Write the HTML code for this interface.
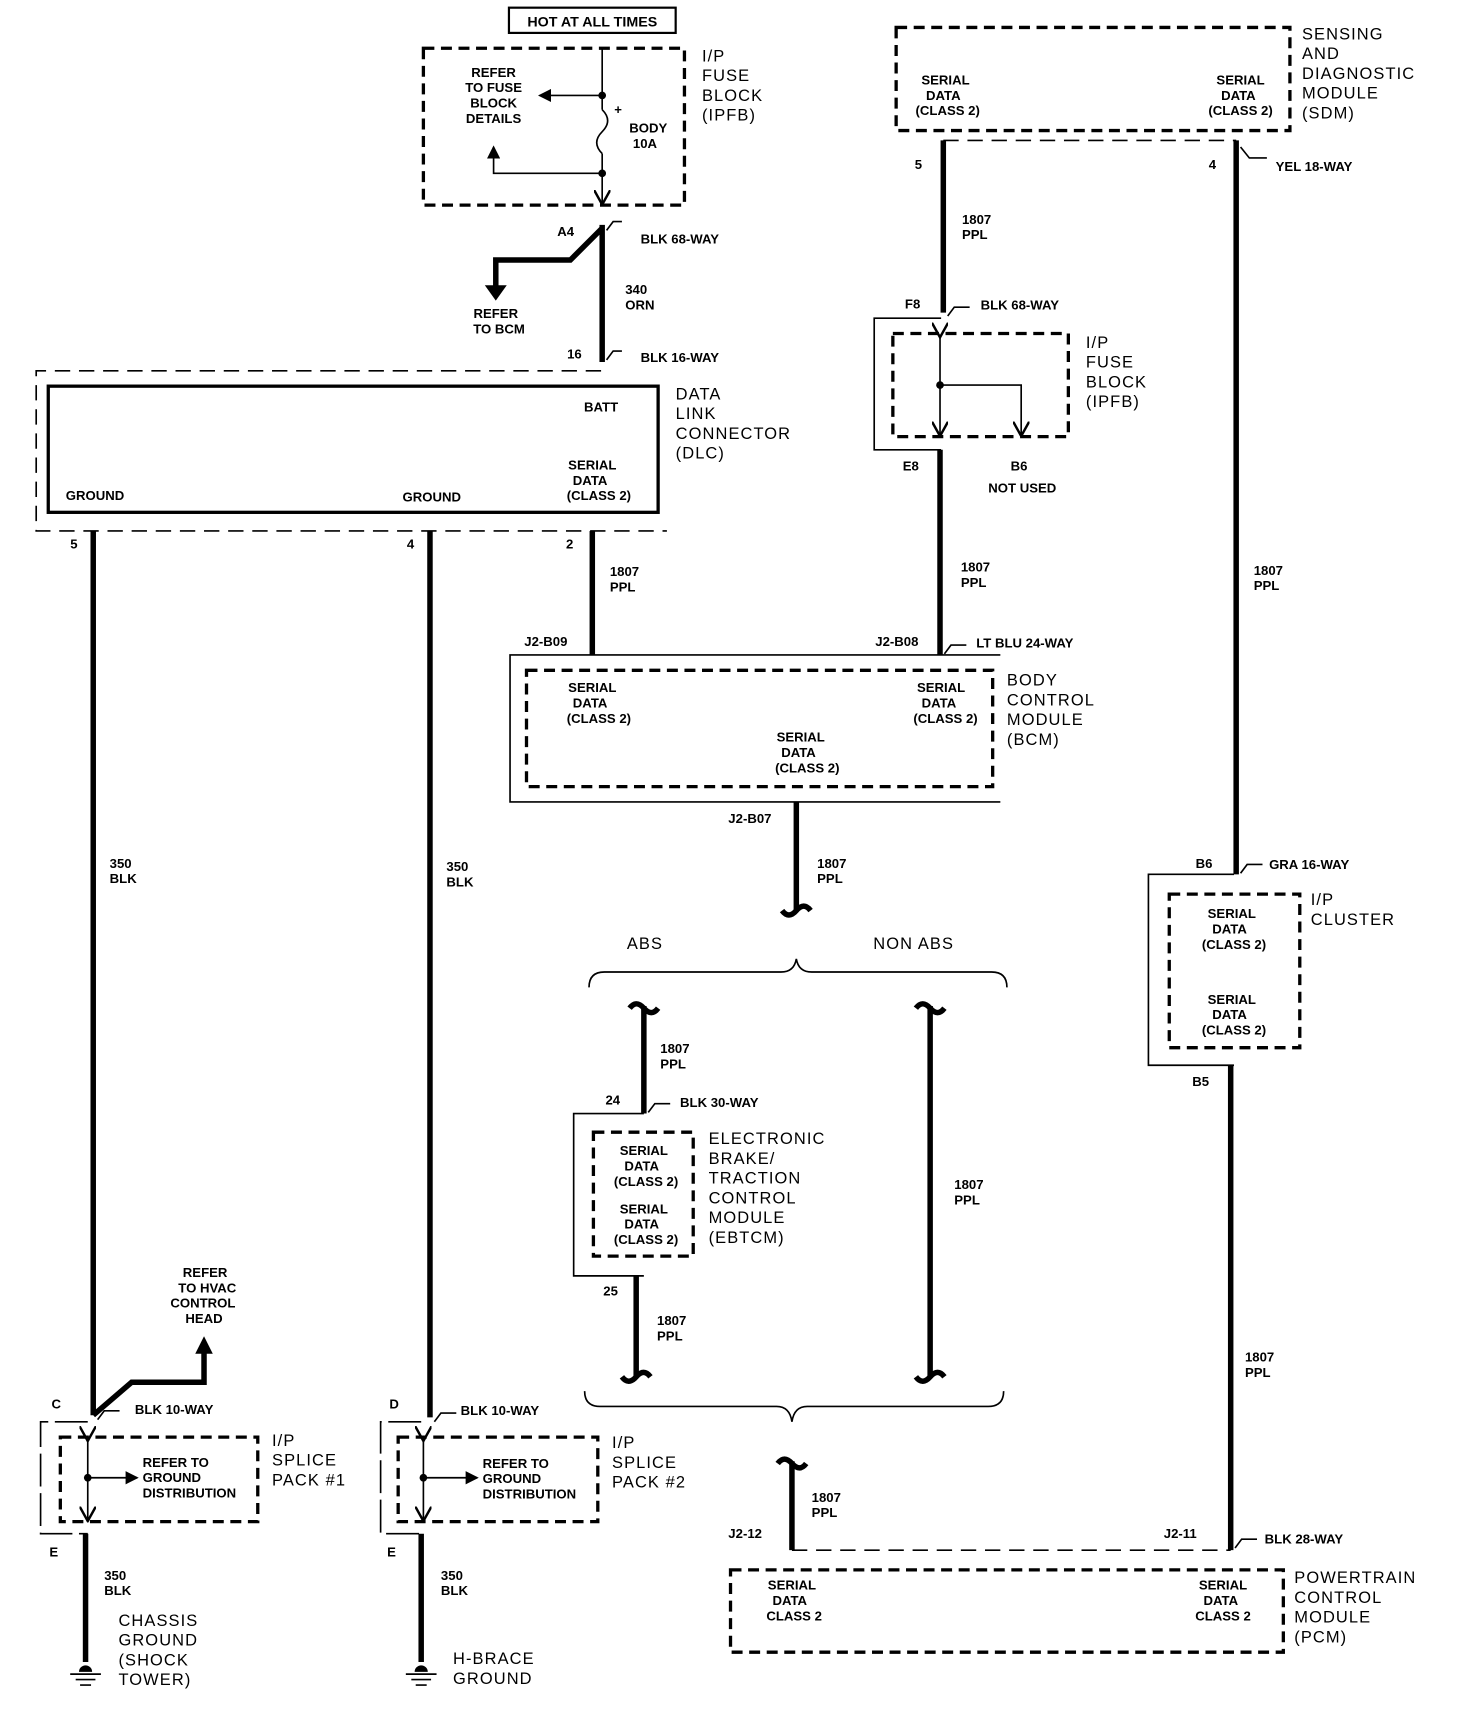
<!DOCTYPE html>
<html><head><meta charset="utf-8"><style>
html,body{margin:0;padding:0;background:#fff;}
svg{display:block;}
.s{font-family:"Liberation Sans",sans-serif;font-size:12px;font-weight:bold;fill:#000;}
.l{font-family:"Liberation Sans",sans-serif;font-size:15px;fill:#000;letter-spacing:1px;}
.w{stroke:#000;stroke-width:5;fill:none;}
.t{stroke:#000;stroke-width:1.5;fill:none;}
.d{stroke:#000;stroke-width:3;fill:none;stroke-dasharray:10 6;}
.dt{stroke:#000;stroke-width:1.5;fill:none;stroke-dasharray:14 8;}
</style></head><body>
<svg width="1472" height="1718" viewBox="0 0 1342 1566" preserveAspectRatio="none" xmlns="http://www.w3.org/2000/svg">
<defs>
<marker id="ah" markerWidth="8" markerHeight="8" refX="7" refY="4" orient="auto"><path d="M0,0 L8,4 L0,8 z" fill="#000"/></marker>
<marker id="av" markerWidth="10" markerHeight="10" refX="8" refY="5" orient="auto"><path d="M0,0 L9,5 L0,10" fill="none" stroke="#000" stroke-width="1.5"/></marker>
</defs>

<rect x="464" y="7" width="152" height="23" fill="none" stroke="#000" stroke-width="2"/>
<text class="s" x="540" y="24" text-anchor="middle" style="font-size:13px">HOT AT ALL TIMES</text>

<rect x="386" y="44" width="238" height="143" class="d"/>
<line x1="549" y1="44" x2="549" y2="100" class="t"/>
<path d="M549,100 q10,10 0,20 q-10,10 0,20" class="t"/>
<line x1="549" y1="140" x2="549" y2="185" class="t" marker-end="url(#av)"/>
<circle cx="549" cy="87" r="3.5"/><circle cx="549" cy="158" r="3.5"/>
<line x1="549" y1="87" x2="492" y2="87" class="t" marker-end="url(#ah)"/>
<polyline points="549,158 450,158 450,134" class="t" marker-end="url(#ah)"/>
<text class="s" x="560" y="104">+</text>
<text class="s" x="450" y="70" text-anchor="middle">REFER</text>
<text class="s" x="450" y="84" text-anchor="middle">TO FUSE</text>
<text class="s" x="450" y="98" text-anchor="middle">BLOCK</text>
<text class="s" x="450" y="112" text-anchor="middle">DETAILS</text>
<text class="s" x="591" y="121" text-anchor="middle">BODY</text>
<text class="s" x="588" y="135" text-anchor="middle">10A</text>
<text class="l" x="640" y="56">I/P</text><text class="l" x="640" y="74">FUSE</text><text class="l" x="640" y="92">BLOCK</text><text class="l" x="640" y="110">(IPFB)</text>

<line x1="549" y1="205" x2="549" y2="330" class="w"/>
<polyline points="549,208 520,237 452,237 452,262" class="w"/>
<path d="M442,260 L462,260 L452,274 z"/>
<path d="M553,210 l6,-8 h8 M553,328 l6,-8 h8" class="t"/>
<text class="s" x="508" y="215">A4</text>
<text class="s" x="584" y="222">BLK 68-WAY</text>
<text class="s" x="570" y="268">340</text><text class="s" x="570" y="282">ORN</text>
<text class="s" x="452" y="290" text-anchor="middle">REFER</text><text class="s" x="455" y="304" text-anchor="middle">TO BCM</text>
<text class="s" x="517" y="327">16</text>
<text class="s" x="584" y="330">BLK 16-WAY</text>

<path d="M548,338 H33 V484 H608" class="dt"/>
<rect x="44" y="352" width="556" height="115" fill="none" stroke="#000" stroke-width="3"/>
<text class="s" x="548" y="375" text-anchor="middle">BATT</text>
<text class="s" x="540" y="428" text-anchor="middle">SERIAL</text>
<text class="s" x="538" y="442" text-anchor="middle">DATA</text>
<text class="s" x="546" y="456" text-anchor="middle">(CLASS 2)</text>
<text class="s" x="60" y="456">GROUND</text>
<text class="s" x="367" y="457">GROUND</text>
<text class="l" x="616" y="364">DATA</text><text class="l" x="616" y="382">LINK</text><text class="l" x="616" y="400">CONNECTOR</text><text class="l" x="616" y="418">(DLC)</text>

<line x1="85" y1="484" x2="85" y2="1290" class="w"/>
<line x1="392" y1="484" x2="392" y2="1292" class="w"/>
<line x1="540" y1="484" x2="540" y2="597" class="w"/>
<text class="s" x="64" y="500">5</text><text class="s" x="371" y="500">4</text><text class="s" x="516" y="500">2</text>
<text class="s" x="556" y="525">1807</text><text class="s" x="556" y="539">PPL</text>
<text class="s" x="100" y="791">350</text><text class="s" x="100" y="805">BLK</text>
<text class="s" x="407" y="794">350</text><text class="s" x="407" y="808">BLK</text>
<text class="s" x="478" y="589">J2-B09</text>

<path d="M912,597 H465 V731 H912" class="t"/>
<rect x="480" y="611" width="425" height="106" class="d"/>
<text class="s" x="540" y="631" text-anchor="middle">SERIAL</text><text class="s" x="538" y="645" text-anchor="middle">DATA</text><text class="s" x="546" y="659" text-anchor="middle">(CLASS 2)</text>
<text class="s" x="858" y="631" text-anchor="middle">SERIAL</text><text class="s" x="856" y="645" text-anchor="middle">DATA</text><text class="s" x="862" y="659" text-anchor="middle">(CLASS 2)</text>
<text class="s" x="730" y="676" text-anchor="middle">SERIAL</text><text class="s" x="728" y="690" text-anchor="middle">DATA</text><text class="s" x="736" y="704" text-anchor="middle">(CLASS 2)</text>
<text class="l" x="918" y="625">BODY</text><text class="l" x="918" y="643">CONTROL</text><text class="l" x="918" y="661">MODULE</text><text class="l" x="918" y="679">(BCM)</text>

<text class="s" x="664" y="750">J2-B07</text>
<line x1="726" y1="731" x2="726" y2="830" class="w"/>
<path d="M713,830 q6,8 13,0 q7,-8 13,0" class="w"/>
<text class="s" x="745" y="791">1807</text><text class="s" x="745" y="805">PPL</text>
<text class="l" x="588" y="865" text-anchor="middle">ABS</text>
<text class="l" x="833" y="865" text-anchor="middle">NON ABS</text>
<path d="M537,900 q0,-14 14,-14 H712 q12,0 14,-12 q2,12 14,12 H904 q14,0 14,14" class="t"/>

<rect x="817" y="25" width="359" height="94" class="d"/>
<text class="s" x="862" y="77" text-anchor="middle">SERIAL</text><text class="s" x="860" y="91" text-anchor="middle">DATA</text><text class="s" x="864" y="105" text-anchor="middle">(CLASS 2)</text>
<text class="s" x="1131" y="77" text-anchor="middle">SERIAL</text><text class="s" x="1129" y="91" text-anchor="middle">DATA</text><text class="s" x="1131" y="105" text-anchor="middle">(CLASS 2)</text>
<text class="l" x="1187" y="36">SENSING</text><text class="l" x="1187" y="54">AND</text><text class="l" x="1187" y="72">DIAGNOSTIC</text><text class="l" x="1187" y="90">MODULE</text><text class="l" x="1187" y="108">(SDM)</text>
<line x1="860" y1="128" x2="1127" y2="128" class="dt"/>
<line x1="860" y1="128" x2="860" y2="285" class="w"/>
<line x1="1127" y1="128" x2="1127" y2="797" class="w"/>
<text class="s" x="834" y="154">5</text><text class="s" x="1102" y="154">4</text>
<path d="M1131,134 l8,10 h16" class="t"/><text class="s" x="1163" y="156">YEL 18-WAY</text>
<text class="s" x="877" y="204">1807</text><text class="s" x="877" y="218">PPL</text>

<text class="s" x="825" y="281">F8</text>
<path d="M864,288 l6,-8 h14" class="t"/><text class="s" x="894" y="282">BLK 68-WAY</text>
<path d="M858,290 H797 V410 H858" class="t"/>
<rect x="814" y="304" width="160" height="94" class="d"/>
<line x1="857" y1="306" x2="857" y2="396" class="t" marker-start="url(#av)" marker-end="url(#av)"/>
<circle cx="857" cy="351" r="3.5"/>
<polyline points="857,351 931,351 931,396" class="t" marker-end="url(#av)"/>
<text class="l" x="990" y="317">I/P</text><text class="l" x="990" y="335">FUSE</text><text class="l" x="990" y="353">BLOCK</text><text class="l" x="990" y="371">(IPFB)</text>
<line x1="857" y1="410" x2="857" y2="597" class="w"/>
<text class="s" x="823" y="429">E8</text>
<text class="s" x="929" y="429" text-anchor="middle">B6</text>
<text class="s" x="932" y="449" text-anchor="middle">NOT USED</text>
<text class="s" x="876" y="521">1807</text><text class="s" x="876" y="535">PPL</text>
<text class="s" x="798" y="589">J2-B08</text>
<path d="M861,596 l6,-8 h14" class="t"/><text class="s" x="890" y="590">LT BLU 24-WAY</text>
<text class="s" x="1143" y="524">1807</text><text class="s" x="1143" y="538">PPL</text>

<text class="s" x="1090" y="791">B6</text>
<path d="M1131,796 l6,-8 h14" class="t"/><text class="s" x="1157" y="792">GRA 16-WAY</text>
<path d="M1125,797 H1047 V971 H1125" class="t"/>
<rect x="1066" y="815" width="119" height="140" class="d"/>
<text class="s" x="1123" y="837" text-anchor="middle">SERIAL</text><text class="s" x="1121" y="851" text-anchor="middle">DATA</text><text class="s" x="1125" y="865" text-anchor="middle">(CLASS 2)</text>
<text class="s" x="1123" y="915" text-anchor="middle">SERIAL</text><text class="s" x="1121" y="929" text-anchor="middle">DATA</text><text class="s" x="1125" y="943" text-anchor="middle">(CLASS 2)</text>
<text class="l" x="1195" y="825">I/P</text><text class="l" x="1195" y="843">CLUSTER</text>
<text class="s" x="1087" y="990">B5</text>
<line x1="1122" y1="971" x2="1122" y2="1413" class="w"/>
<text class="s" x="1135" y="1241">1807</text><text class="s" x="1135" y="1255">PPL</text>
<text class="s" x="1061" y="1402">J2-11</text>
<path d="M1126,1411 l6,-8 h14" class="t"/><text class="s" x="1153" y="1407">BLK 28-WAY</text>

<line x1="722" y1="1413" x2="1122" y2="1413" class="dt"/>
<rect x="666" y="1431" width="504" height="75" class="d"/>
<text class="s" x="722" y="1449" text-anchor="middle">SERIAL</text><text class="s" x="720" y="1463" text-anchor="middle">DATA</text><text class="s" x="724" y="1477" text-anchor="middle">CLASS 2</text>
<text class="s" x="1115" y="1449" text-anchor="middle">SERIAL</text><text class="s" x="1113" y="1463" text-anchor="middle">DATA</text><text class="s" x="1115" y="1477" text-anchor="middle">CLASS 2</text>
<text class="l" x="1180" y="1443">POWERTRAIN</text><text class="l" x="1180" y="1461">CONTROL</text><text class="l" x="1180" y="1479">MODULE</text><text class="l" x="1180" y="1497">(PCM)</text>
<line x1="722" y1="1332" x2="722" y2="1413" class="w"/>
<path d="M709,1334 q6,-8 13,0 q7,8 13,0" class="w"/>
<text class="s" x="740" y="1369">1807</text><text class="s" x="740" y="1383">PPL</text>
<text class="s" x="664" y="1402">J2-12</text>
<path d="M533,1268 q0,14 14,14 H708 q12,0 14,14 q2,-14 14,-14 H901 q14,0 14,-14" class="t"/>

<line x1="587" y1="917" x2="587" y2="1015" class="w"/>
<path d="M574,919 q6,-8 13,0 q7,8 13,0" class="w"/>
<text class="s" x="602" y="960">1807</text><text class="s" x="602" y="974">PPL</text>
<text class="s" x="552" y="1007">24</text>
<path d="M591,1014 l6,-8 h14" class="t"/><text class="s" x="620" y="1009">BLK 30-WAY</text>
<path d="M587,1015 H523 V1163 H587" class="t"/>
<rect x="541" y="1032" width="91" height="113" class="d"/>
<text class="s" x="587" y="1053" text-anchor="middle">SERIAL</text><text class="s" x="585" y="1067" text-anchor="middle">DATA</text><text class="s" x="589" y="1081" text-anchor="middle">(CLASS 2)</text>
<text class="s" x="587" y="1106" text-anchor="middle">SERIAL</text><text class="s" x="585" y="1120" text-anchor="middle">DATA</text><text class="s" x="589" y="1134" text-anchor="middle">(CLASS 2)</text>
<text class="l" x="646" y="1043">ELECTRONIC</text><text class="l" x="646" y="1061">BRAKE/</text><text class="l" x="646" y="1079">TRACTION</text><text class="l" x="646" y="1097">CONTROL</text><text class="l" x="646" y="1115">MODULE</text><text class="l" x="646" y="1133">(EBTCM)</text>
<text class="s" x="550" y="1181">25</text>
<line x1="580" y1="1163" x2="580" y2="1255" class="w"/>
<path d="M567,1255 q6,8 13,0 q7,-8 13,0" class="w"/>
<text class="s" x="599" y="1208">1807</text><text class="s" x="599" y="1222">PPL</text>

<line x1="848" y1="917" x2="848" y2="1255" class="w"/>
<path d="M835,919 q6,-8 13,0 q7,8 13,0" class="w"/>
<path d="M835,1255 q6,8 13,0 q7,-8 13,0" class="w"/>
<text class="s" x="870" y="1084">1807</text><text class="s" x="870" y="1098">PPL</text>

<polyline points="85,1290 120,1260 186,1260 186,1232" class="w"/>
<path d="M178,1234 L194,1234 L186,1218 z"/>
<text class="s" x="187" y="1164" text-anchor="middle">REFER</text><text class="s" x="189" y="1178" text-anchor="middle">TO HVAC</text><text class="s" x="185" y="1192" text-anchor="middle">CONTROL</text><text class="s" x="186" y="1206" text-anchor="middle">HEAD</text>
<text class="s" x="47" y="1284">C</text>
<path d="M89,1294 l6,-8 h14" class="t"/><text class="s" x="123" y="1289">BLK 10-WAY</text>
<path d="M80,1296 H37 V1398 H80" class="t" stroke-dasharray="30 6"/>
<rect x="55" y="1310" width="180" height="77" class="d"/>
<line x1="80" y1="1312" x2="80" y2="1385" class="t" marker-start="url(#av)" marker-end="url(#av)"/>
<circle cx="80" cy="1347" r="3.5"/>
<line x1="80" y1="1347" x2="125" y2="1347" class="t" stroke-width="2.5" marker-end="url(#ah)"/>
<text class="s" x="130" y="1337">REFER TO</text><text class="s" x="130" y="1351">GROUND</text><text class="s" x="130" y="1365">DISTRIBUTION</text>
<text class="l" x="248" y="1318">I/P</text><text class="l" x="248" y="1336">SPLICE</text><text class="l" x="248" y="1354">PACK #1</text>
<text class="s" x="45" y="1419">E</text>
<line x1="78" y1="1398" x2="78" y2="1515" class="w"/>
<path d="M72,1524 a6,6 0 0 1 12,0 z"/>
<path d="M64,1526 h28 M69,1531 h18 M73,1536 h10" class="t" stroke-width="2"/>
<text class="s" x="95" y="1440">350</text><text class="s" x="95" y="1454">BLK</text>
<text class="l" x="108" y="1482">CHASSIS</text><text class="l" x="108" y="1500">GROUND</text><text class="l" x="108" y="1518">(SHOCK</text><text class="l" x="108" y="1536">TOWER)</text>

<text class="s" x="355" y="1284">D</text>
<path d="M396,1296 l6,-8 h14" class="t"/><text class="s" x="420" y="1290">BLK 10-WAY</text>
<path d="M384,1296 H347 V1398 H384" class="t" stroke-dasharray="30 6"/>
<rect x="363" y="1310" width="182" height="77" class="d"/>
<line x1="386" y1="1312" x2="386" y2="1385" class="t" marker-start="url(#av)" marker-end="url(#av)"/>
<circle cx="386" cy="1347" r="3.5"/>
<line x1="386" y1="1347" x2="435" y2="1347" class="t" stroke-width="2.5" marker-end="url(#ah)"/>
<text class="s" x="440" y="1338">REFER TO</text><text class="s" x="440" y="1352">GROUND</text><text class="s" x="440" y="1366">DISTRIBUTION</text>
<text class="l" x="558" y="1320">I/P</text><text class="l" x="558" y="1338">SPLICE</text><text class="l" x="558" y="1356">PACK #2</text>
<text class="s" x="353" y="1419">E</text>
<line x1="384" y1="1398" x2="384" y2="1515" class="w"/>
<path d="M378,1524 a6,6 0 0 1 12,0 z"/>
<path d="M370,1526 h28 M375,1531 h18 M379,1536 h10" class="t" stroke-width="2"/>
<text class="s" x="402" y="1440">350</text><text class="s" x="402" y="1454">BLK</text>
<text class="l" x="413" y="1517">H-BRACE</text><text class="l" x="413" y="1535">GROUND</text>
</svg>
</body></html>
